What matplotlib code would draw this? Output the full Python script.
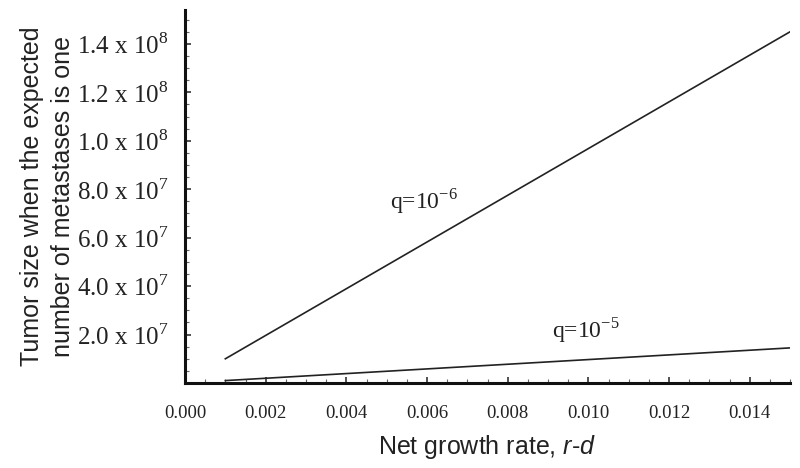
import matplotlib
matplotlib.use("Agg")
import matplotlib.pyplot as plt
from matplotlib.ticker import MultipleLocator

plt.rcParams['mathtext.fontset'] = 'custom'
plt.rcParams['mathtext.rm'] = 'Liberation Serif'
plt.rcParams['mathtext.it'] = 'Liberation Sans:italic'

# data
rate = [0.001, 0.015]
q6_size = [1.0e7, 1.45e8]
q5_size = [1.0e6, 1.45e7]
x_ticks = [0.000, 0.002, 0.004, 0.006, 0.008, 0.010, 0.012, 0.014]
x_labels = ["0.000", "0.002", "0.004", "0.006", "0.008", "0.010", "0.012", "0.014"]
y_ticks = [2e7, 4e7, 6e7, 8e7, 1e8, 1.2e8, 1.4e8]
y_labels = [r"2.0 x 10$^{7}$", r"4.0 x 10$^{7}$", r"6.0 x 10$^{7}$", r"8.0 x 10$^{7}$",
            r"1.0 x 10$^{8}$", r"1.2 x 10$^{8}$", r"1.4 x 10$^{8}$"]

ink = "#222222"
fig = plt.figure(figsize=(8, 4.68), dpi=100)
ax = fig.add_axes([0.23125, 0.1816, 0.75625, 0.797])

ax.plot(rate, q6_size, color=ink, lw=1.2)
ax.plot(rate, q5_size, color=ink, lw=1.2)

ax.set_xlim(0, 0.015)
ax.set_ylim(0, 1.54e8)

for s in ["top", "right"]:
    ax.spines[s].set_visible(False)
for s in ["left", "bottom"]:
    ax.spines[s].set_linewidth(2.2)
    ax.spines[s].set_color("#111111")

ax.set_xticks(x_ticks)
ax.set_xticklabels(x_labels, fontfamily="Liberation Serif", fontsize=13.5, color=ink)
ax.set_yticks(y_ticks)
ax.set_yticklabels(y_labels, fontfamily="Liberation Serif", fontsize=18, color=ink)
ax.xaxis.set_minor_locator(MultipleLocator(0.0005))
ax.yaxis.set_minor_locator(MultipleLocator(5e6))
ax.tick_params(which="major", direction="in", length=4, width=1.2, color="#333333")
ax.tick_params(axis="y", which="major", pad=12)
ax.tick_params(axis="x", which="major", pad=16)
ax.tick_params(which="minor", direction="in", length=3, width=0.8, color="#666666")

ax.set_xlabel(r"Net growth rate, $\mathit{r}$-$\mathit{d}$", fontfamily="Liberation Sans",
              fontsize=18, color=ink, labelpad=8)
ax.set_ylabel("Tumor size when the expected\nnumber of metastases is one",
              fontfamily="Liberation Sans", fontsize=18, color=ink, labelpad=1,
              linespacing=1.4)

ax.text(0.00593, 7.5e7, r"q=10$^{-6}$", fontfamily="Liberation Serif", fontsize=17,
        color=ink, ha="center", va="center")
ax.text(0.00994, 2.2e7, r"q=10$^{-5}$", fontfamily="Liberation Serif", fontsize=17,
        color=ink, ha="center", va="center")

fig.savefig("out.png", dpi=100)
